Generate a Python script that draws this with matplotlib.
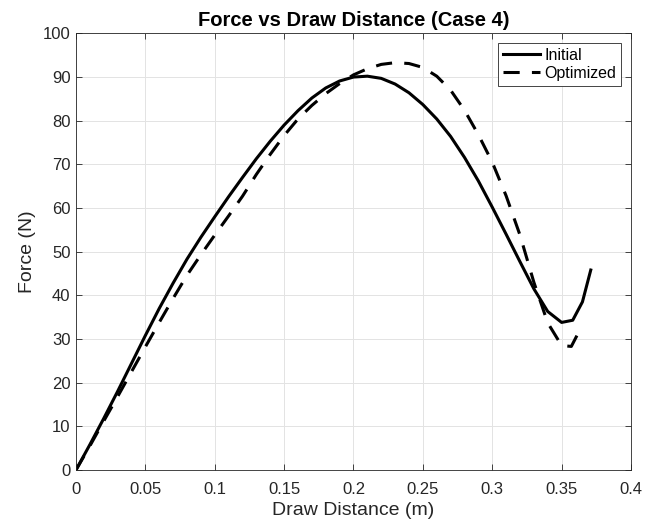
import numpy as np
from matplotlib import pyplot as plt

plt.rcParams['font.family'] = ['Liberation Sans', 'DejaVu Sans']

# values
x_init = [0, 0.01, 0.02, 0.03, 0.04, 0.05, 0.06, 0.07, 0.08, 0.09, 0.10, 0.11, 0.12,
          0.13, 0.14, 0.15, 0.16, 0.17, 0.18, 0.19, 0.20, 0.21, 0.22, 0.23, 0.24,
          0.25, 0.26, 0.27, 0.28, 0.29, 0.30, 0.31, 0.32, 0.33, 0.34, 0.35, 0.358,
          0.365, 0.371]
f_init = [0, 5.8, 11.8, 18, 24.4, 30.8, 37, 42.8, 48.3, 53.3, 58, 62.6, 67,
          71.3, 75.3, 79, 82.3, 85.2, 87.5, 89.1, 90, 90.2, 89.7, 88.4, 86.4,
          83.7, 80.4, 76.4, 71.6, 66.2, 60.2, 54, 47.7, 41.5, 36.3, 33.8, 34.3,
          38.5, 45.8]

x_opt = [0, 0.01, 0.02, 0.03, 0.04, 0.05, 0.06, 0.07, 0.08, 0.09, 0.10, 0.11, 0.12,
         0.13, 0.14, 0.15, 0.16, 0.17, 0.18, 0.19, 0.20, 0.21, 0.22, 0.23, 0.24,
         0.25, 0.26, 0.27, 0.28, 0.29, 0.30, 0.31, 0.32, 0.33, 0.34, 0.35, 0.357,
         0.363]
f_opt = [0, 5.5, 11.2, 16.8, 22.5, 28.2, 33.8, 39.3, 44.6, 49.3, 53.8, 58.2, 62.7,
         67.7, 72.3, 76.6, 80.4, 83.5, 86.2, 88.5, 90.5, 91.9, 92.9, 93.3, 93.1,
         92.2, 90.2, 87, 82.4, 76.8, 70.5, 62.8, 53.8, 43, 33.7, 28.5, 28.3,
         32]

fig = plt.figure(figsize=(6.59, 5.26), dpi=100)
ax = fig.add_axes([0.1153, 0.1065, 0.8422, 0.830])

ax.plot(x_init, f_init, color='black', lw=2.2, label='Initial')
ax.plot(x_opt, f_opt, color='black', lw=2.2, linestyle=(0, (5.3, 4)), label='Optimized')

ax.set_xlim(0, 0.4)
ax.set_ylim(0, 100)
ax.set_xticks(np.arange(0, 0.401, 0.05))
ax.set_xticklabels(['0', '0.05', '0.1', '0.15', '0.2', '0.25', '0.3', '0.35', '0.4'])
ax.set_yticks(np.arange(0, 101, 10))
ax.grid(True, color='#e3e3e3', lw=0.7)
ax.set_axisbelow(True)
ax.tick_params(direction='in', top=True, right=True, labelsize=12, colors='#262626',
               length=4, width=0.6)
ax.tick_params(axis='x', pad=9)
ax.tick_params(axis='y', pad=4)
for s in ax.spines.values():
    s.set_color('#262626')
    s.set_linewidth(0.6)

ax.set_xlabel('Draw Distance (m)', fontsize=14, color='#262626', labelpad=3)
ax.set_ylabel('Force (N)', fontsize=14, color='#262626', labelpad=5)
ax.set_title('Force vs Draw Distance (Case 4)', fontsize=14.5, fontweight='bold', pad=5)

leg = ax.legend(loc='upper right', fontsize=11.5, fancybox=False, framealpha=1,
                edgecolor='#262626', handlelength=2.3, borderpad=0.3, labelspacing=0.2,
                handletextpad=0.3, borderaxespad=0.6)
leg.get_frame().set_linewidth(0.6)

fig.savefig('out.png', dpi=100)
